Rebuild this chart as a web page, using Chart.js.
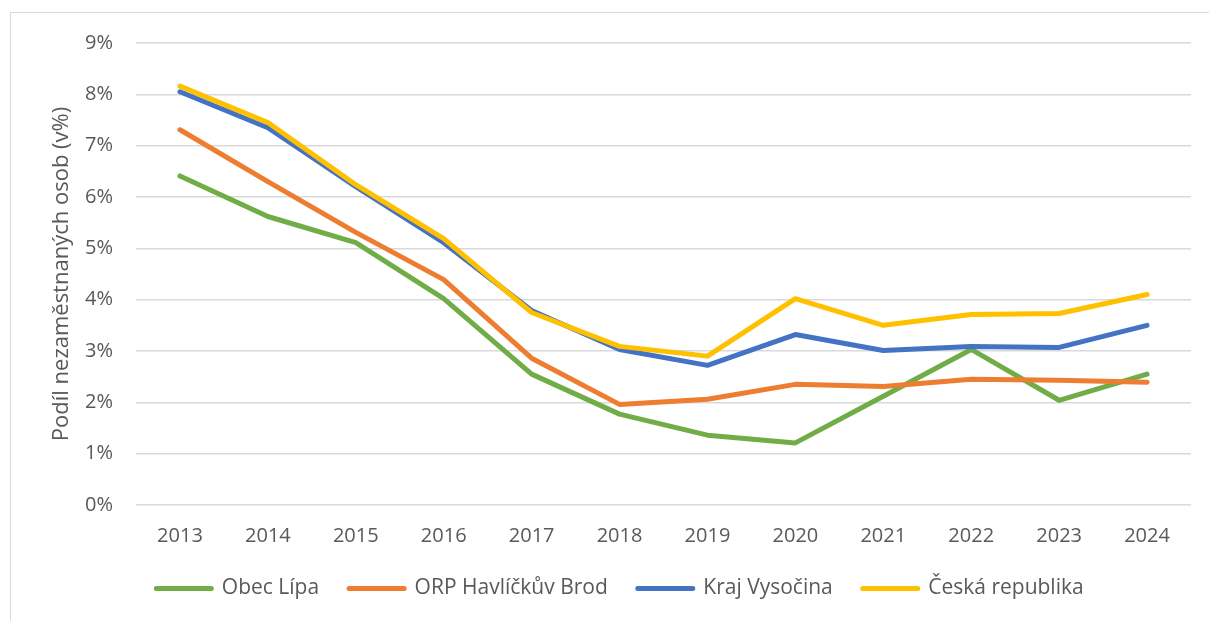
<!DOCTYPE html>
<html>
<head>
<meta charset="utf-8">
<script src="https://cdn.jsdelivr.net/npm/chart.js@4/dist/chart.umd.min.js"></script>
<style>
    html, body { margin: 0; padding: 0; background: #fff; overflow: hidden; }
    #frame { position: absolute; left: 10px; top: 12px; width: 1260px; height: 700px; border: 1px solid #d9d9d9; }
    #wrap { position: absolute; left: 0; top: 0; width: 1209px; height: 621px; }
</style>
</head>
<body>
<div id="frame"></div>
<div id="wrap"><canvas id="chart"></canvas></div>
<script>
'use strict';

const years = ['2013', '2014', '2015', '2016', '2017', '2018', '2019', '2020', '2021', '2022', '2023', '2024'];

// podil nezamestnanych v %
const obecLipa = [6.41, 5.62, 5.11, 4.02, 2.55, 1.77, 1.36, 1.21, 2.12, 3.03, 2.04, 2.55];
const orpHavlBrod = [7.31, 6.30, 5.31, 4.39, 2.86, 1.96, 2.06, 2.35, 2.31, 2.45, 2.43, 2.39];
const krajVysocina = [8.05, 7.35, 6.20, 5.11, 3.79, 3.03, 2.72, 3.32, 3.01, 3.09, 3.07, 3.50];
const ceskaRep = [8.16, 7.45, 6.24, 5.19, 3.75, 3.09, 2.90, 4.02, 3.50, 3.71, 3.73, 4.10];

const seriesNames = ['Obec Lípa', 'ORP Havlíčkův Brod', 'Kraj Vysočina', 'Česká republika'];
const yTicks = [0, 1, 2, 3, 4, 5, 6, 7, 8, 9];

const FONT = '"Open Sans", sans-serif';
const TXT = '#595959';

function line(label, data, color, order) {
    return {
        label: label,
        data: data,
        borderColor: color,
        backgroundColor: color,
        borderWidth: 5,
        pointRadius: 0,
        tension: 0,
        borderCapStyle: 'round',
        borderJoinStyle: 'round',
        order: order
    };
}

// eslint-disable-next-line no-undef
new Chart(document.getElementById('chart'), {
    type: 'line',
    data: {
        labels: years,
        datasets: [
            line(seriesNames[0], obecLipa, '#70ad47', 4),
            line(seriesNames[1], orpHavlBrod, '#ed7d31', 3),
            line(seriesNames[2], krajVysocina, '#4472c4', 2),
            line(seriesNames[3], ceskaRep, '#ffc000', 1)
        ]
    },
    options: {
        responsive: true,
        maintainAspectRatio: false,
        animation: false,
        layout: { padding: { top: 43, right: 18, bottom: 12, left: 49 } },
        plugins: {
            tooltip: { enabled: false },
            legend: {
                position: 'bottom',
                labels: {
                    sort: (a, b) => a.datasetIndex - b.datasetIndex,
                    boxWidth: 55,
                    boxHeight: 0,
                    padding: 30,
                    color: TXT,
                    font: { family: FONT, size: 21 }
                }
            }
        },
        scales: {
            x: {
                offset: true,
                grid: { display: false, drawTicks: false },
                border: { display: false },
                ticks: { color: TXT, padding: 19, font: { family: FONT, size: 20 }, maxRotation: 0 },
                // chart.js counts tick padding twice
                afterFit: axis => { axis.height = 43; }
            },
            y: {
                min: 0,
                max: 9,
                afterBuildTicks: axis => { axis.ticks = yTicks.map(v => ({ value: v })); },
                afterFit: axis => { axis.width = 87; },
                grid: { color: '#d9d9d9', lineWidth: 1.5, drawTicks: false },
                border: { display: false },
                ticks: {
                    color: TXT,
                    padding: 23,
                    font: { family: FONT, size: 20 },
                    callback: v => v + '%'
                },
                title: {
                    display: true,
                    text: 'Podíl nezaměstnaných osob (v%)',
                    color: TXT,
                    padding: { top: 0, bottom: 9 },
                    font: { family: FONT, size: 22 }
                }
            }
        }
    }
});
</script>
</body>
</html>
